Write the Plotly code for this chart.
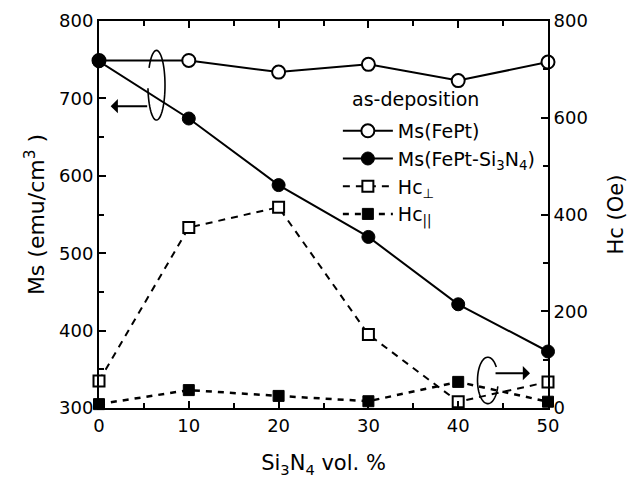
import numpy as np
import plotly.graph_objects as go

# Si3N4 content (vol. %)
si3n4_vol = [0, 10, 20, 30, 40, 50]

# Saturation magnetisation, emu/cm^3 (left axis)
ms_fept = [749, 749, 734, 744, 723, 747]
ms_fept_si3n4 = [748, 674, 588, 521, 434, 373]

# Coercivity, Oe (right axis)
hc_perp = [56, 373, 415, 152, 13, 54]
hc_par = [8, 37, 25, 14, 54, 13]

FONT = "DejaVu Sans"
BLACK = "#000000"

fig = go.Figure()

fig.add_trace(go.Scatter(
    x=si3n4_vol, y=ms_fept, name="Ms(FePt)", mode="lines+markers",
    line=dict(color=BLACK, width=2),
    marker=dict(symbol="circle", size=13, color="white", line=dict(color=BLACK, width=2)),
    cliponaxis=False,
))
fig.add_trace(go.Scatter(
    x=si3n4_vol, y=ms_fept_si3n4, name="Ms(FePt-Si<sub>3</sub>N<sub>4</sub>)", mode="lines+markers",
    line=dict(color=BLACK, width=2),
    marker=dict(symbol="circle", size=13, color=BLACK, line=dict(color=BLACK, width=1)),
    cliponaxis=False,
))
fig.add_trace(go.Scatter(
    x=si3n4_vol, y=hc_perp, name="Hc<sub>⊥</sub>", mode="lines+markers", yaxis="y2",
    line=dict(color=BLACK, width=2, dash="7px,6px"),
    marker=dict(symbol="square", size=11, color="white", line=dict(color=BLACK, width=2)),
    cliponaxis=False,
))
fig.add_trace(go.Scatter(
    x=si3n4_vol, y=hc_par, name="Hc<sub>||</sub>", mode="lines+markers", yaxis="y2",
    line=dict(color=BLACK, width=2.5, dash="6px,6px"),
    marker=dict(symbol="square", size=11, color=BLACK, line=dict(color=BLACK, width=1)),
    cliponaxis=False,
))


def loop_path(cx, cy, rx, ry, gap_from, gap_to, n=60):
    """Open elliptical loop (angles in degrees, gap left undrawn)."""
    t = np.radians(np.linspace(gap_to, gap_from + 360, n))
    xs = cx + rx * np.cos(t)
    ys = cy + ry * np.sin(t)
    return "M " + " L ".join(f"{a:.4f},{b:.4f}" for a, b in zip(xs, ys))


shapes = [
    dict(type="path", xref="x", yref="y", path=loop_path(6.4, 717, 0.95, 45, 150, 185),
         line=dict(color=BLACK, width=1.6)),
    dict(type="path", xref="x", yref="y2", path=loop_path(43.3, 57, 1.15, 48, -15, 35),
         line=dict(color=BLACK, width=1.6)),
]

annotations = [
    # arrow towards left axis
    dict(x=1.3, y=690, xref="x", yref="y", ax=38, ay=0, text="", showarrow=True,
         arrowhead=1, arrowsize=1.2, arrowwidth=2, arrowcolor=BLACK),
    # arrow towards right axis
    dict(x=48.0, y=72, xref="x", yref="y2", ax=-36, ay=0, text="", showarrow=True,
         arrowhead=1, arrowsize=1.2, arrowwidth=2, arrowcolor=BLACK),
    dict(x=35.3, y=699, xref="x", yref="y", text="as-deposition", showarrow=False,
         font=dict(family=FONT, size=19, color=BLACK), xanchor="center", yanchor="middle"),
]

axis_common = dict(
    showline=True, linecolor=BLACK, linewidth=2,
    ticks="inside", ticklen=7, tickwidth=2, tickcolor=BLACK,
    showgrid=False, zeroline=False, automargin=False,
    tickfont=dict(family=FONT, size=18, color=BLACK),
)

fig.update_layout(
    width=638, height=480,
    margin=dict(l=99, r=90, t=21, b=72),
    paper_bgcolor="white", plot_bgcolor="white",
    font=dict(family=FONT, color=BLACK),
    showlegend=True,
    legend=dict(
        x=0.532, y=0.765, xanchor="left", yanchor="top",
        bgcolor="rgba(0,0,0,0)", borderwidth=0,
        font=dict(family=FONT, size=19, color=BLACK),
        itemwidth=50, tracegroupgap=0,
    ),
    xaxis=dict(
        **axis_common, range=[0, 50], dtick=10, mirror="ticks",
        minor=dict(ticks="inside", ticklen=5, tickwidth=2, tickcolor=BLACK, dtick=5),
        title=dict(text="Si<sub>3</sub>N<sub>4</sub> vol. %", font=dict(family=FONT, size=21, color=BLACK),
                   standoff=21),
    ),
    yaxis=dict(
        **axis_common, range=[300, 800], dtick=100,
        minor=dict(ticks="inside", ticklen=5, tickwidth=2, tickcolor=BLACK, dtick=50),
        title=dict(text="Ms (emu/cm<sup>3</sup> )", font=dict(family=FONT, size=22, color=BLACK),
                   standoff=8),
    ),
    yaxis2=dict(
        **axis_common, range=[0, 800], dtick=200, overlaying="y", side="right",
        minor=dict(ticks="inside", ticklen=5, tickwidth=2, tickcolor=BLACK, dtick=100),
        title=dict(text="Hc (Oe)", font=dict(family=FONT, size=21, color=BLACK), standoff=21),
    ),
    shapes=shapes,
    annotations=annotations,
)

fig.write_html("out.html")
